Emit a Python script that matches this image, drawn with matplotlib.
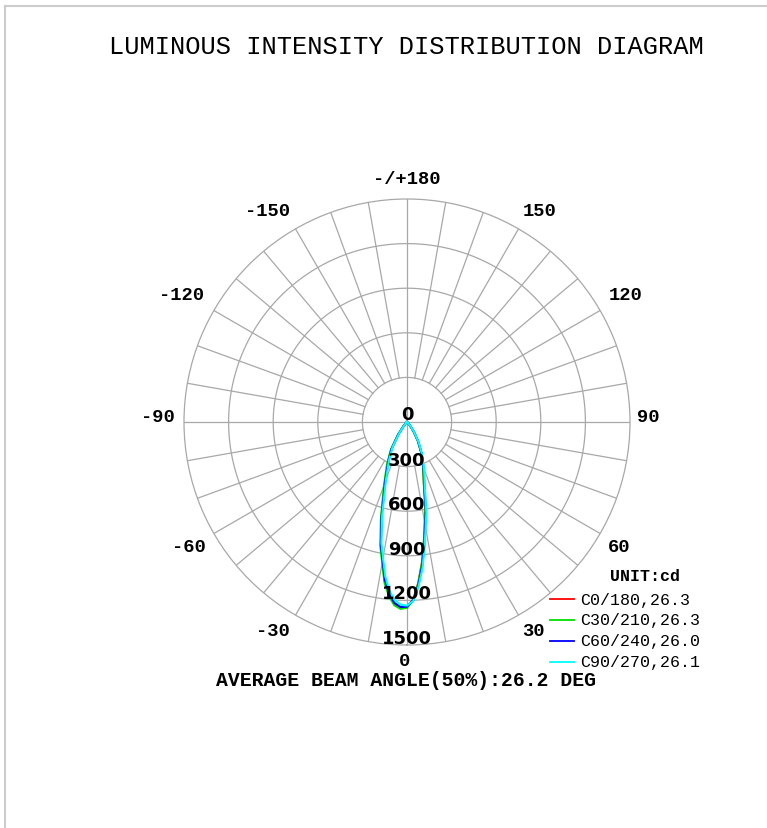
import numpy as np
import matplotlib
matplotlib.use('Agg')
import matplotlib.pyplot as plt
from matplotlib.lines import Line2D

# ===============
# Data
# ===============
# gamma angle in degrees, 0 = straight down, positive to the right
gamma = [-90, -60, -45, -40, -35, -30, -25, -20, -15, -12, -10, -8, -6, -4, -2,
         0, 2, 4, 6, 8, 10, 12, 15, 20, 25, 30, 35, 40, 45, 60, 90]

# intensity in cd for each C-plane pair
c0_180 = [0, 2, 12, 35, 100, 210, 310, 440, 670, 850, 950, 1080, 1165, 1225, 1250,
          1245, 1195, 1085, 955, 815, 690, 595, 440, 315, 225, 145, 75, 30, 10, 2, 0]
c30_210 = [0, 2, 14, 40, 110, 220, 320, 450, 680, 860, 960, 1090, 1175, 1235, 1258,
           1250, 1200, 1090, 960, 815, 690, 595, 440, 315, 225, 145, 75, 30, 10, 2, 0]
c60_240 = [0, 2, 12, 35, 100, 205, 300, 430, 660, 845, 945, 1070, 1160, 1220, 1245,
           1242, 1200, 1100, 975, 835, 705, 610, 455, 325, 232, 150, 80, 32, 11, 2, 0]
c90_270 = [0, 2, 10, 30, 90, 195, 290, 415, 645, 830, 930, 1050, 1140, 1200, 1230,
           1235, 1205, 1110, 990, 850, 720, 625, 465, 335, 240, 155, 82, 34, 12, 2, 0]

series_names = ['C0/180,26.3', 'C30/210,26.3', 'C60/240,26.0', 'C90/270,26.1']
series_colors = ['#ff0000', '#00e000', '#0000ff', '#00ffff']

ring_values = [300, 600, 900, 1200, 1500]
angle_ticks = [0, 30, 60, 90, 120, 150, 180, -150, -120, -90, -60, -30]
angle_labels = ['0', '30', '60', '90', '120', '150', '-/+180', '-150', '-120', '-90', '-60', '-30']

title = 'LUMINOUS INTENSITY DISTRIBUTION DIAGRAM'
beam_text = 'AVERAGE BEAM ANGLE(50%):26.2 DEG'
unit_text = 'UNIT:cd'

# ===============
# Figure
# ===============
W, H = 767, 829
fig = plt.figure(figsize=(W / 100, H / 100), dpi=100)

# light frame at top and left
fig.add_artist(Line2D([4.5 / W, 1], [1 - 6.5 / H, 1 - 6.5 / H], color='#cccccc', lw=1.5))
fig.add_artist(Line2D([4.5 / W, 4.5 / W], [0, 1 - 6.5 / H], color='#cccccc', lw=1.5))

cx, cy, R = 407, 423, 223
ax = fig.add_axes([(cx - R) / W, (H - cy - R) / H, 2 * R / W, 2 * R / H], projection='polar')
ax.set_theta_zero_location('S')
ax.set_theta_direction(1)
rmax = ring_values[-1]
ax.set_ylim(0, rmax)
ax.set_xticks([])
ax.set_yticks([])
ax.grid(False)
ax.spines['polar'].set_color('#a8a8a8')
ax.spines['polar'].set_linewidth(0.9)

grid_col = '#a8a8a8'
circ = np.linspace(0, 2 * np.pi, 361)
for rv in ring_values[:-1]:
    ax.plot(circ, np.full_like(circ, rv), color=grid_col, lw=0.9, zorder=1)
for a in range(0, 360, 10):
    r0 = 0 if a % 90 == 0 else ring_values[0]
    ax.plot([np.radians(a)] * 2, [r0, rmax], color=grid_col, lw=0.9, zorder=1)

th = np.radians(gamma)
for vals, col in zip([c0_180, c30_210, c60_240, c90_270], series_colors):
    ax.plot(th, vals, color=col, lw=1.5, zorder=3)

# ring labels along the bottom axis
mono = 'Liberation Mono'
ax.annotate('0', (0, 0), xytext=(0, -1), textcoords='offset points', ha='center',
            va='bottom', fontsize=13, fontweight='bold', family='DejaVu Sans', zorder=5)
for rv in ring_values:
    ax.annotate(str(rv), (0, rv), xytext=(0, -1.5), textcoords='offset points',
                ha='center', va='bottom', fontsize=13, fontweight='bold',
                family='DejaVu Sans', zorder=5)

# angle labels round the outside, offsets from the centre in pixels (x right, y down)
label_offset = {0: (-2, 238), 30: (126, 208), 60: (212, 125), 90: (241, -6),
                120: (219, -128), 150: (133, -212), 180: (0, -243),
                -30: (-134, 209), -60: (-218, 125), -90: (-249, -6),
                -120: (-225, -128), -150: (-140, -212)}
for a, lab in zip(angle_ticks, angle_labels):
    dx, dy = label_offset[a]
    ax.annotate(lab, (0, 0), xytext=(dx * 0.72, -dy * 0.72), textcoords='offset points',
                ha='center', va='center', fontsize=13.5, fontweight='bold',
                family=mono, annotation_clip=False)

fig.text(406 / W, 1 - 47 / H, title, ha='center', va='center', fontsize=18.3, family=mono)
fig.text(406 / W, 1 - 681 / H, beam_text, ha='center', va='center', fontsize=14.2,
         fontweight='bold', family=mono)

# legend
fig.text(645 / W, 1 - 577 / H, unit_text, ha='center', va='center', fontsize=12,
         fontweight='bold', family=mono)
for i, (name, col) in enumerate(zip(series_names, series_colors)):
    y = 1 - (600 + 21 * i) / H
    fig.add_artist(Line2D([550 / W, 574 / W], [y, y], color=col, lw=1.3))
    fig.text(580 / W, y, name, ha='left', va='center', fontsize=12, family=mono)

fig.savefig('out.png', dpi=100)
